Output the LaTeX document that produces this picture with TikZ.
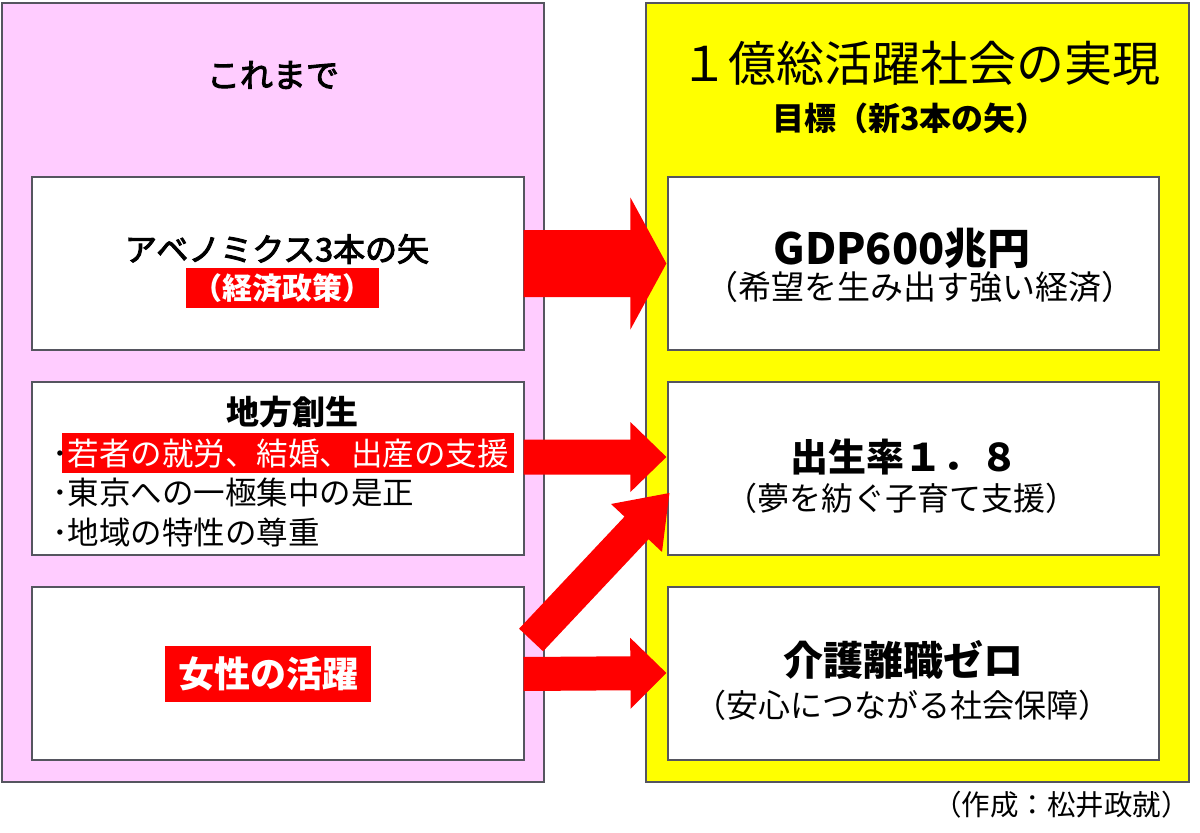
\documentclass[tikz,border=0pt]{standalone}
\usepackage{fontspec}
\setmainfont{Noto Sans CJK JP}
\newfontfamily\medfont[FakeBold=3]{Noto Sans CJK JP}
\usetikzlibrary{calc}
\definecolor{pinkbg}{RGB}{255,204,255}
\definecolor{yelbg}{RGB}{255,255,0}
\definecolor{redfill}{RGB}{255,0,0}
\definecolor{edgecol}{RGB}{85,85,95}
\newcommand\fsz[1]{\fontsize{#1}{#1}\selectfont}
% #1 tail, #2 tip, #3 half shaft width, #4 half head width, #5 head length
\newcommand\fatarrow[5]{%
  \coordinate (#1-hb) at ($(#2)!#5!(#1)$);
  \fill[redfill] ($(#1)!#3!90:(#2)$) -- ($(#1-hb)!#3!90:(#2)$) -- ($(#1-hb)!#4!90:(#2)$) -- (#2)
    -- ($(#1-hb)!#4!-90:(#2)$) -- ($(#1-hb)!#3!-90:(#2)$) -- ($(#1)!#3!-90:(#2)$) -- cycle;}
\begin{document}
\begin{tikzpicture}[x=1pt,y=-1pt,
  panel/.style={draw=edgecol,line width=1.5pt,inner sep=0pt,minimum width=542pt,minimum height=779pt},
  wbox/.style={draw=edgecol,line width=1.2pt,fill=white,inner sep=0pt,minimum width=492pt,minimum height=173pt},
  redtag/.style={fill=redfill,text=white,inner sep=0pt},
  txt/.style={inner sep=0pt},
  bul/.style={inner sep=0pt,anchor=west,font=\fsz{31.5}},
]
\path[use as bounding box,fill=white] (0,0) rectangle (1200,833);

% panels
\node[panel,fill=pinkbg] (LP) at (273,392.5) {};
\node[panel,fill=yelbg,minimum width=543pt] (RP) at (917.5,392.5) {};

% panel titles
\node[txt,font=\fsz{33}\medfont] (t1) at (273,75) {これまで};
\node[txt,font=\fsz{48}] (t2) at (920,63) {１億総活躍社会の実現};
\node[txt,font=\fsz{32}\bfseries] (t3) at (910,118) {目標（新3本の矢）};

% left boxes
\node[wbox] (L1) at (278,263.5) {};
\node[wbox] (L2) at (278,468.5) {};
\node[wbox] (L3) at (278,673.5) {};
% right boxes
\node[wbox,minimum width=491pt] (R1) at (913.5,263.5) {};
\node[wbox,minimum width=491pt] (R2) at (913.5,468.5) {};
\node[wbox,minimum width=491pt] (R3) at (913.5,673.5) {};

% left box 1
\node[txt,font=\fsz{32}\medfont] (abe) at (277,249) {アベノミクス3本の矢};
\node[redtag,minimum width=193pt,minimum height=40pt,font=\fsz{30}\bfseries] (keizai) at (282.5,288) {（経済政策）};

% left box 2
\node[txt,font=\fsz{33}\bfseries] (chiho) at (292,412) {地方創生};
\node[redtag,minimum width=452pt,minimum height=40pt] (hl) at (288,453) {};
\node[bul] (b1) at (52,454) {･\textcolor{white}{若者の就労、結婚、出産の支援}};
\node[bul] (b2) at (52,493) {･東京への一極集中の是正};
\node[bul] (b3) at (52,532) {･地域の特性の尊重};

% left box 3
\node[redtag,minimum width=206pt,minimum height=56pt,font=\fsz{36}\bfseries] (josei) at (268,674) {女性の活躍};

% right box texts
\node[txt,font=\fsz{43}\bfseries] (gdp) at (902,248) {GDP600兆円};
\node[txt,font=\fsz{33}] (gdps) at (920,287) {（希望を生み出す強い経済）};
\node[txt,font=\fsz{38}\bfseries] (birth) at (904,457) {出生率１．８};
\node[txt,font=\fsz{32}] (births) at (901,498) {（夢を紡ぐ子育て支援）};
\node[txt,font=\fsz{40}\bfseries] (kaigo) at (903,660) {介護離職ゼロ};
\node[txt,font=\fsz{32}] (kaigos) at (902,705) {（安心につながる社会保障）};

% footer
\node[txt,font=\fsz{28.5},anchor=east] (credit) at (1190,805) {（作成：松井政就）};

% arrows
\coordinate (a1s) at ($(L1.east)+(-1,0)$);
\coordinate (a1t) at ($(R1.west)+(-1,0)$);
\coordinate (a2s) at ($(L2.east)+(-1,-11.5)$);
\coordinate (a2t) at ($(R2.west)+(-1,-11.5)$);
\coordinate (a3s) at ($(L3.east)+(6.5,-33.5)$);
\coordinate (a3t) at ($(R2.west)+(2,24.5)$);
\coordinate (a4s) at ($(L3.east)+(-1,0.5)$);
\coordinate (a4t) at ($(R3.west)+(-1,-0.5)$);
\fatarrow{a1s}{a1t}{33.5pt}{66pt}{36pt}
\fatarrow{a2s}{a2t}{17.5pt}{35pt}{36pt}
\fatarrow{a3s}{a3t}{16.5pt}{35pt}{48pt}
\fatarrow{a4s}{a4t}{17pt}{35.5pt}{36pt}
\end{tikzpicture}
\end{document}
